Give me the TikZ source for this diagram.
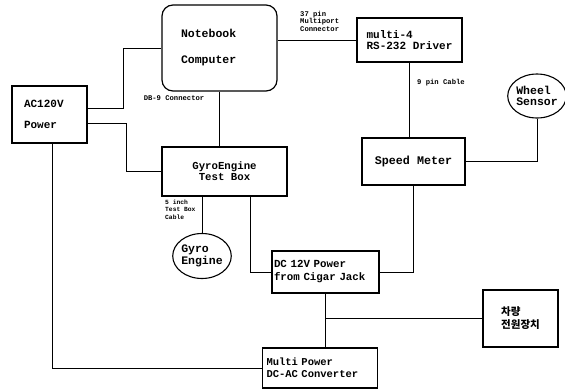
\documentclass[tikz,border=0pt]{standalone}
\usepackage{fontspec}
\usepackage{tikz}
\usetikzlibrary{shapes.geometric, positioning}
\newfontfamily\monofont{Liberation Mono}
\newfontfamily\krfont{Noto Sans CJK KR}

\begin{document}
\begin{tikzpicture}[
        x=1pt, y=-1pt,
        box/.style={rectangle, draw, line width=1.2pt, align=center,
            font=\monofont\bfseries\fontsize{11}{11.5}\selectfont, inner sep=2pt},
        bubble/.style={ellipse, draw, line width=1.1pt, align=left, inner sep=0pt,
            font=\monofont\bfseries\fontsize{11.5}{11.5}\selectfont},
        lbl/.style={align=left, inner sep=0pt,
            font=\monofont\bfseries\fontsize{7.2}{7.4}\selectfont},
        wire/.style={line width=0.9pt}
    ]
        \useasboundingbox (0,0) rectangle (565,389);

        \node[box, rounded corners=11pt, minimum width=115pt, minimum height=86pt,
            align=left, text width=77pt, inner xsep=19pt,
            font=\monofont\bfseries\fontsize{11.5}{12}\selectfont]
            (nb) at (219.5,48) {Notebook\\[14pt]Computer};
        \node[box, minimum width=75pt, minimum height=57pt, align=left,
            text width=51pt, inner xsep=12pt] (ac) at (49.5,114.5)
            {AC120V\\[9pt]Power};
        \node[box, minimum width=125pt, minimum height=49pt,
            font=\monofont\bfseries\fontsize{10.7}{11}\selectfont]
            (tbox) at (224.5,171.5) {GyroEngine\\Test Box};
        \node[box, minimum width=105pt, minimum height=44pt, align=left]
            (drv) at (409.5,40) {multi-4\\RS-232 Driver};
        \node[box, minimum width=103pt, minimum height=47pt,
            font=\monofont\bfseries\fontsize{11.7}{12}\selectfont]
            (spd) at (413.5,161.5) {Speed Meter};
        \node[bubble, minimum width=52pt, minimum height=44pt]
            (wheel) at (537,96) {Wheel\\Sensor};
        \node[bubble, minimum width=52pt, minimum height=45pt]
            (geng) at (202,256) {Gyro\\Engine};
        \node[box, minimum width=107pt, minimum height=42pt, align=left,
            text width=103pt, inner xsep=2pt,
            font=\monofont\bfseries\fontsize{10.8}{13}\selectfont]
            (dc) at (325.5,272) {DC 12V Power\\from Cigar Jack};
        \node[box, minimum width=115pt, minimum height=40pt, align=left,
            text width=107pt, inner xsep=4pt,
            font=\monofont\bfseries\fontsize{10.5}{12}\selectfont]
            (mp) at (320,368) {Multi Power\\DC-AC Converter};
        \node[box, minimum width=75pt, minimum height=57pt, align=left,
            font=\krfont\bfseries\fontsize{10.5}{13}\selectfont]
            (car) at (520.5,318.5) {차량\\전원장치};

        % labels on the cables
        \node[lbl] (db9) at (174,98) {DB-9 Connector};
        \node[lbl, anchor=north west] (pin37) at (300,11) {37 pin\\Multiport\\Connector};
        \node[lbl, anchor=west] (pin9) at (417,83) {9 pin Cable};
        \node[lbl, anchor=north west, font=\monofont\bfseries\fontsize{6.3}{7.2}\selectfont]
            (tcable) at (165,200) {5 inch\\Test Box\\Cable};

        \coordinate (tap) at (dc.south |- car.west);

        \draw[wire] ([yshift=6.5pt]ac.east) -- ++(36,0) |- (nb.west);
        \draw[wire] ([yshift=-8.5pt]ac.east) -- ++(39,0) |- (tbox.west);
        \draw[wire] (nb.south) -- (nb.south |- tbox.north);
        \draw[wire] ([xshift=2.5pt]ac.south) |- (mp.west);
        \draw[wire] (nb.east |- drv.west) -- (drv.west);
        \draw[wire] (drv.south) -- (drv.south |- spd.north);
        \draw[wire] (spd.east) -| (wheel.south);
        \draw[wire] (spd.south) |- (dc.east);
        \draw[wire] (tbox.south -| geng.north) -- (geng.north);
        \draw[wire] ([xshift=25.5pt]tbox.south) |- (dc.west);
        \draw[wire] (dc.south) -- (dc.south |- mp.north);
        \draw[wire] (tap) -- (car.west);
\end{tikzpicture}
\end{document}
